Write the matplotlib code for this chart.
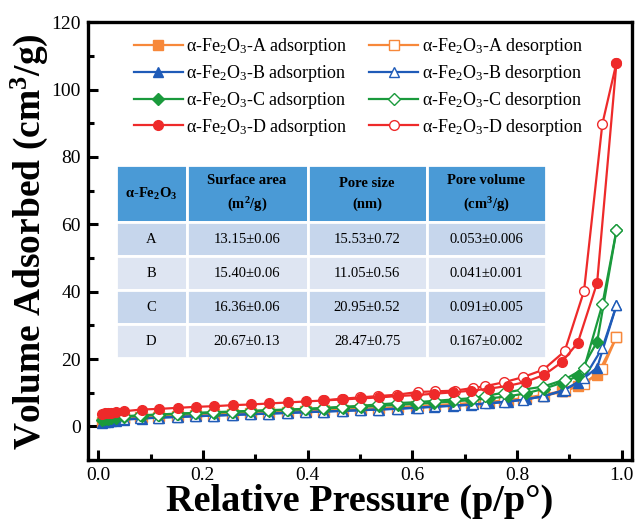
import matplotlib
matplotlib.use("Agg")
import matplotlib.pyplot as plt
from matplotlib.ticker import MultipleLocator

plt.rcParams['font.family'] = ['Liberation Serif', 'DejaVu Serif']
plt.rcParams['mathtext.fontset'] = 'custom'
plt.rcParams['mathtext.rm'] = 'Liberation Serif'
plt.rcParams['mathtext.it'] = 'Liberation Serif:italic'
plt.rcParams['mathtext.bf'] = 'Liberation Serif:bold'

# relative pressure grids
p_ads = [0.007, 0.012, 0.018, 0.025, 0.033, 0.05, 0.083, 0.117, 0.152, 0.187, 0.222,
         0.257, 0.292, 0.327, 0.362, 0.397, 0.432, 0.467, 0.502, 0.537, 0.572, 0.607,
         0.642, 0.677, 0.712, 0.747, 0.782, 0.817, 0.852, 0.885, 0.916, 0.953, 0.99]
p_des = [0.99, 0.963, 0.928, 0.891, 0.85, 0.811, 0.775, 0.738, 0.716, 0.681, 0.644,
         0.61, 0.571, 0.535, 0.5, 0.465, 0.43, 0.395, 0.36, 0.325, 0.29, 0.255, 0.22,
         0.185, 0.15, 0.115, 0.08, 0.05]

# adsorbed volume (cm3/g)
a_ads = [1.4, 1.6, 1.8, 2.0, 2.1, 2.4, 2.7, 3.0, 3.2, 3.4, 3.6, 3.8, 4.0, 4.2, 4.4, 4.6,
         4.8, 5.0, 5.2, 5.4, 5.7, 6.0, 6.3, 6.6, 6.9, 7.3, 7.8, 8.5, 9.4, 10.5, 11.9, 15.2, 26.5]
b_ads = [1.0, 1.2, 1.4, 1.6, 1.7, 2.0, 2.3, 2.6, 2.8, 3.0, 3.2, 3.4, 3.6, 3.8, 4.0, 4.2,
         4.4, 4.6, 4.8, 5.0, 5.2, 5.5, 5.8, 6.1, 6.4, 6.8, 7.3, 8.0, 9.0, 10.5, 12.9, 17.4, 35.9]
c_ads = [1.9, 2.1, 2.3, 2.5, 2.6, 2.9, 3.2, 3.5, 3.7, 3.9, 4.1, 4.3, 4.5, 4.7, 4.9, 5.1,
         5.3, 5.6, 5.8, 6.1, 6.4, 6.7, 7.0, 7.4, 7.8, 8.3, 8.9, 9.8, 11.2, 12.9, 14.9, 25.1, 58.2]
d_ads = [3.7, 3.9, 4.0, 4.1, 4.2, 4.5, 5.0, 5.2, 5.5, 5.8, 6.0, 6.3, 6.5, 6.8, 7.1, 7.4,
         7.7, 8.0, 8.3, 8.6, 9.0, 9.3, 9.7, 10.1, 10.6, 11.2, 12.0, 13.2, 15.3, 19.0, 24.8, 42.6, 108.0]

a_des = [26.5, 17.0, 12.6, 10.4, 9.0, 8.2, 7.6, 7.1, 6.8, 6.5, 6.2, 5.9, 5.6, 5.3, 5.1,
         4.9, 4.7, 4.5, 4.3, 4.1, 3.9, 3.7, 3.5, 3.3, 3.1, 2.9, 2.7, 2.4]
b_des = [35.9, 23.3, 14.3, 10.8, 8.9, 7.9, 7.3, 6.8, 6.5, 6.2, 5.9, 5.6, 5.3, 5.0, 4.8,
         4.6, 4.4, 4.2, 4.0, 3.8, 3.6, 3.4, 3.2, 3.0, 2.8, 2.6, 2.4, 2.1]
c_des = [58.2, 36.2, 17.2, 13.9, 11.8, 10.9, 10.0, 9.0, 8.4, 8.0, 7.6, 7.2, 6.9, 6.5, 6.1,
         5.8, 5.5, 5.2, 5.0, 4.8, 4.6, 4.4, 4.2, 4.0, 3.8, 3.5, 3.3, 3.0]
d_des = [108.0, 89.8, 40.2, 22.3, 16.8, 14.6, 13.1, 11.9, 11.4, 10.6, 10.4, 10.2, 9.4,
         9.0, 8.6, 8.2, 7.7]

samples = ['A', 'B', 'C', 'D']
colors = ['#F7883A', '#1F5BB8', '#1A9A3C', '#EE2A2A']
markers = ['s', '^', 'D', 'o']
ads_data = [a_ads, b_ads, c_ads, d_ads]
des_data = [a_des, b_des, c_des, d_des]

# BET table
col_labels = [r'α-Fe$_\mathbf{2}$O$_\mathbf{3}$', 'Surface area\n(m$^\mathbf{2}$/g)',
              'Pore size\n(nm)', 'Pore volume\n(cm$^\mathbf{3}$/g)']
surface_area = ['13.15±0.06', '15.40±0.06', '16.36±0.06', '20.67±0.13']
pore_size = ['15.53±0.72', '11.05±0.56', '20.95±0.52', '28.47±0.75']
pore_volume = ['0.053±0.006', '0.041±0.001', '0.091±0.005', '0.167±0.002']

fig, ax = plt.subplots(figsize=(6.36, 5.3), dpi=100)
fig.subplots_adjust(left=0.138, right=0.994, bottom=0.132, top=0.958)

ads_lines, des_lines = [], []
for i, s in enumerate(samples):
    msz = 6 if markers[i] == 'D' else 7
    kw = dict(color=colors[i], marker=markers[i], ms=msz, lw=1.6)
    ads_lab = r'α-Fe$_2$O$_3$-%s adsorption' % s
    des_lab = r'α-Fe$_2$O$_3$-%s desorption' % s
    p_d = p_des[:len(des_data[i])]
    if s == 'D':
        # filled D markers sit on top at low pressure
        ld, = ax.plot(p_d, des_data[i], mfc='white', mec=colors[i], label=des_lab, **kw)
        la, = ax.plot(p_ads, ads_data[i], label=ads_lab, **kw)
    else:
        la, = ax.plot(p_ads, ads_data[i], label=ads_lab, **kw)
        ld, = ax.plot(p_d, des_data[i], mfc='white', mec=colors[i], label=des_lab, **kw)
    ads_lines.append(la)
    des_lines.append(ld)

ax.legend(handles=ads_lines + des_lines, ncol=2, frameon=False, loc='upper left',
          bbox_to_anchor=(0.055, 1.005), fontsize=13, handlelength=2.7,
          labelspacing=0.32, columnspacing=1.2, handletextpad=0.2)

ax.set_xlim(-0.02, 1.02)
ax.set_ylim(-10, 120)
ax.xaxis.set_major_locator(MultipleLocator(0.2))
ax.xaxis.set_minor_locator(MultipleLocator(0.1))
ax.yaxis.set_major_locator(MultipleLocator(20))
ax.yaxis.set_minor_locator(MultipleLocator(10))
ax.xaxis.set_major_formatter(plt.FuncFormatter(lambda v, _: '%.1f' % v))
ax.tick_params(which='both', direction='in', width=2.2, labelsize=14, top=False, right=False)
ax.tick_params(which='major', length=7, pad=5)
ax.tick_params(which='minor', length=4)
for sp in ax.spines.values():
    sp.set_linewidth(2.4)

ax.set_xlabel('Relative Pressure (p/p°)', fontsize=27.5, fontweight='bold', labelpad=0)
ax.set_ylabel(r'Volume Adsorbed (cm$^\mathbf{3}$/g)', fontsize=27, fontweight='bold', labelpad=1)

# table
rows = [[s, sa, ps, pv] for s, sa, ps, pv in zip(samples, surface_area, pore_size, pore_volume)]
tbl = ax.table(cellText=rows, colLabels=col_labels, cellLoc='center',
               bbox=[0.051, 0.233, 0.79, 0.44], zorder=3)
tbl.auto_set_font_size(False)
col_w = [71, 121, 119, 119]
row_fill = ['#C6D6EC', '#DEE5F2', '#C6D6EC', '#DEE5F2']
for (r, c), cell in tbl.get_celld().items():
    cell.set_edgecolor('white')
    cell.set_linewidth(2)
    cell.set_width(col_w[c])
    cell.get_text().set_fontsize(10.5)
    if r == 0:
        cell.set_height(57)
        cell.set_facecolor('#4A9AD6')
        cell.get_text().set_fontweight('bold')
        cell.get_text().set_linespacing(1.7)
    else:
        cell.set_height(34)
        cell.set_facecolor(row_fill[r - 1])

fig.savefig('out.png', dpi=100, facecolor='white')
